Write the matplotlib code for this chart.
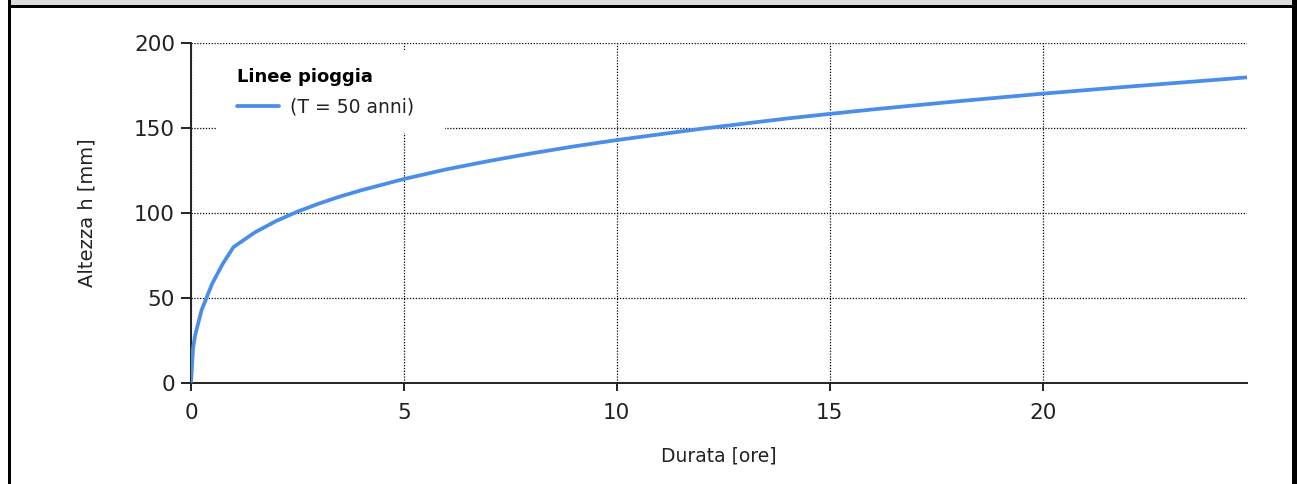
import matplotlib
matplotlib.use("Agg")
import matplotlib.pyplot as plt
from matplotlib.patches import Rectangle

plt.rcParams['font.family'] = ['DejaVu Sans']

# Data
durata = [0, 0.05, 0.1, 0.25, 0.5, 0.75, 1, 1.5, 2, 2.5, 3, 3.5, 4, 5, 6, 7,
          8, 9, 10, 12, 14, 15, 16, 18, 20, 22, 24, 24.8]
altezza = [0, 20.8, 28.4, 43.0, 58.6, 70.3, 80.0, 88.6, 95.3, 100.8, 105.5,
           109.7, 113.4, 120.0, 125.7, 130.6, 135.1, 139.2, 142.9, 149.6,
           155.6, 158.3, 160.9, 165.7, 170.2, 174.3, 178.2, 179.8]
series_label = "(T = 50 anni)"
legend_title = "Linee pioggia"
x_ticks = [0, 5, 10, 15, 20]
y_ticks = [0, 50, 100, 150, 200]
x_label = "Durata [ore]"
y_label = "Altezza h [mm]"

W, H = 1297, 484
fig = plt.figure(figsize=(W / 100, H / 100), dpi=100)
fig.patch.set_facecolor('white')

def px_rect(x0, y0, x1, y1, color):
    # pixel coords from top-left
    fig.patches.append(Rectangle((x0 / W, 1 - y1 / H), (x1 - x0) / W, (y1 - y0) / H,
                                 transform=fig.transFigure, facecolor=color,
                                 edgecolor='none', zorder=0))

px_rect(11, 0, 1292, 5, '#dcdcdc')
px_rect(8, 5, 1297, 8, 'black')
px_rect(8, 0, 11, 484, 'black')
px_rect(1292, 0, 1297, 484, 'black')

ax = fig.add_axes([191 / W, 1 - 383 / H, (1247 - 191) / W, (383 - 43) / H])
ax.set_facecolor('white')

ax.plot(durata, altezza, color='#4a8ee8', lw=2.7, label=series_label,
        solid_capstyle='round', solid_joinstyle='round', zorder=3)

ax.set_xlim(0, 24.8)
ax.set_ylim(0, 200)
ax.set_xticks(x_ticks)
ax.set_yticks(y_ticks)

for s in ['top', 'right']:
    ax.spines[s].set_visible(False)
for s in ['left', 'bottom']:
    ax.spines[s].set_linewidth(1.4)
    ax.spines[s].set_color('#222222')

ax.grid(True, color='black', linestyle=(0, (1, 1.3)), linewidth=0.9)
ax.set_axisbelow(True)

ax.tick_params(axis='x', length=5.5, width=1.4, color='#222222', labelsize=15.5,
               pad=9, labelcolor='#222222')
ax.tick_params(axis='y', length=7.5, width=1.4, color='#222222', labelsize=15.5,
               pad=4, labelcolor='#222222')

ax.set_xlabel(x_label, fontsize=13.5, color='#222222', labelpad=17)
ax.set_ylabel(y_label, fontsize=14, color='#222222', labelpad=27)

# white box behind legend
ax.add_patch(Rectangle((0.0237, 0.735), 0.217, 0.244, transform=ax.transAxes,
                       facecolor='white', edgecolor='none', zorder=2.5))

leg = ax.legend(loc='upper left', bbox_to_anchor=(0.028, 0.975), frameon=False,
                fontsize=13.5, title=legend_title,
                title_fontproperties={'weight': 'bold', 'size': 13},
                handlelength=2.2, handletextpad=0.6, alignment='left',
                labelspacing=0.5, borderpad=0.4)
leg.set_zorder(4)
for t in leg.get_texts():
    t.set_color('#222222')
# spacing between title and entry
leg._legend_box.sep = 8

fig.savefig('out.png', dpi=100)
